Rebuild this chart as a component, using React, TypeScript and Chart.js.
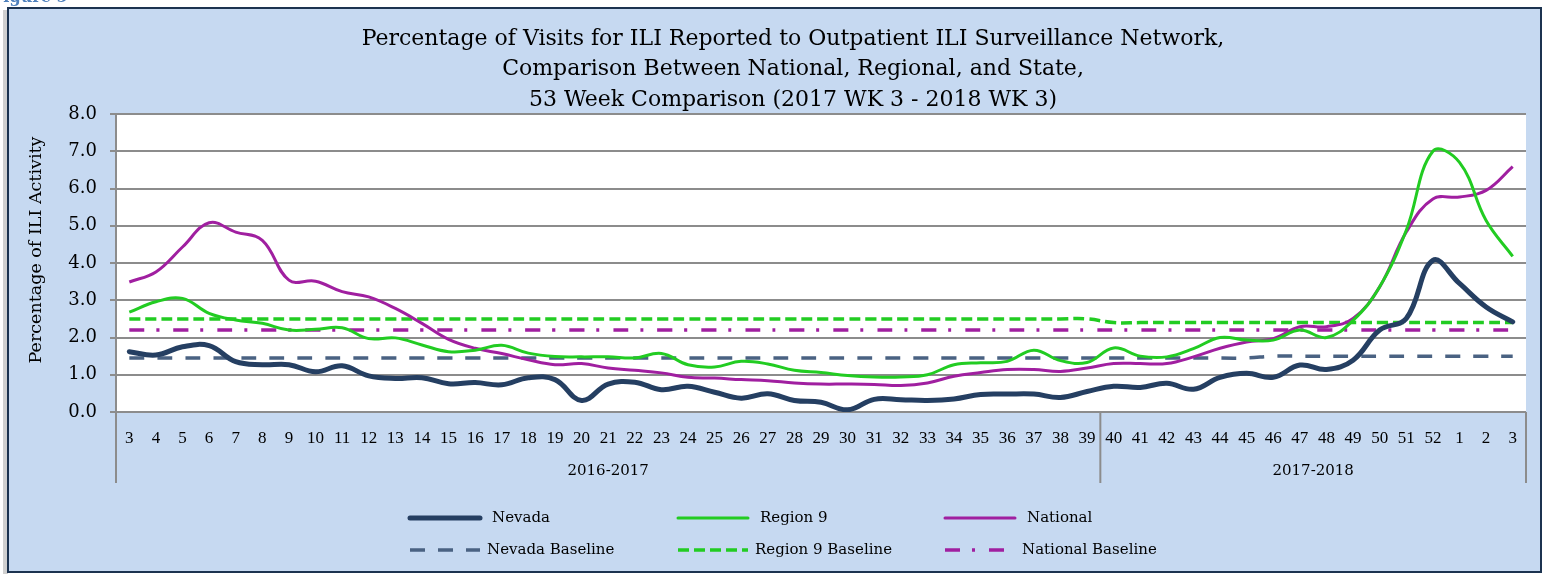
import { useEffect, useRef } from 'react';
import { Chart, registerables } from 'chart.js';

Chart.register(...registerables);

const weekLabels = [
  '3', '4', '5', '6', '7', '8', '9', '10', '11', '12', '13', '14', '15', '16', '17', '18', '19', '20',
  '21', '22', '23', '24', '25', '26', '27', '28', '29', '30', '31', '32', '33', '34', '35', '36', '37',
  '38', '39', '40', '41', '42', '43', '44', '45', '46', '47', '48', '49', '50', '51', '52', '1', '2', '3',
];

const seasonLabels = ['2016-2017', '2017-2018'];
const seasonFirstIndex = [0, 37];
const seasonLastIndex = [36, 52];

const titleLines = [
  'Percentage of Visits for ILI Reported to Outpatient ILI Surveillance Network,',
  'Comparison Between National, Regional, and State,',
  '53 Week Comparison (2017 WK 3 - 2018 WK 3)',
];
const yAxisTitle = 'Percentage of ILI Activity';
const figureLabel = 'Figure 5';

const nevada = [
  1.62, 1.53, 1.75, 1.78, 1.35, 1.27, 1.27, 1.08, 1.24, 0.97,
  0.9, 0.92, 0.76, 0.79, 0.73, 0.92, 0.87, 0.31, 0.75, 0.8,
  0.6, 0.69, 0.53, 0.37, 0.49, 0.31, 0.26, 0.06, 0.34, 0.33,
  0.31, 0.35, 0.47, 0.48, 0.48, 0.39, 0.55, 0.69, 0.66, 0.77,
  0.61, 0.93, 1.04, 0.93, 1.26, 1.14, 1.39, 2.2, 2.51, 4.07,
  3.45, 2.82, 2.42,
];

const region9 = [
  2.68, 2.96, 3.05, 2.65, 2.47, 2.38, 2.2, 2.22, 2.26, 1.97,
  1.99, 1.8, 1.62, 1.66, 1.79, 1.58, 1.49, 1.48, 1.48, 1.45,
  1.57, 1.27, 1.21, 1.36, 1.29, 1.12, 1.06, 0.98, 0.94, 0.94,
  1.0, 1.27, 1.32, 1.36, 1.66, 1.38, 1.33, 1.72, 1.5, 1.48,
  1.7, 2.0, 1.93, 1.93, 2.2, 2.0, 2.46, 3.36, 4.88, 7.0,
  6.7, 5.14, 4.18,
];

const national = [
  3.49, 3.76, 4.43, 5.08, 4.83, 4.61, 3.54, 3.51, 3.23, 3.09,
  2.78, 2.38, 1.95, 1.71, 1.57, 1.4, 1.27, 1.3, 1.18, 1.12,
  1.05, 0.93, 0.91, 0.87, 0.84, 0.78, 0.75, 0.75, 0.74, 0.71,
  0.78, 0.96, 1.06, 1.14, 1.14, 1.09, 1.18, 1.3, 1.3, 1.3,
  1.48, 1.71, 1.88, 1.97, 2.29, 2.29, 2.51, 3.36, 4.83, 5.72,
  5.77, 5.95, 6.59,
];

const nevadaBaseline = [
  1.45, 1.45, 1.45, 1.45, 1.45, 1.45, 1.45, 1.45, 1.45, 1.45,
  1.45, 1.45, 1.45, 1.45, 1.45, 1.45, 1.45, 1.45, 1.45, 1.45,
  1.45, 1.45, 1.45, 1.45, 1.45, 1.45, 1.45, 1.45, 1.45, 1.45,
  1.45, 1.45, 1.45, 1.45, 1.45, 1.45, 1.45, 1.45, 1.45, 1.45,
  1.45, 1.45, 1.45, 1.5, 1.5, 1.5, 1.5, 1.5, 1.5, 1.5,
  1.5, 1.5, 1.5,
];

const region9Baseline = [
  2.5, 2.5, 2.5, 2.5, 2.5, 2.5, 2.5, 2.5, 2.5, 2.5,
  2.5, 2.5, 2.5, 2.5, 2.5, 2.5, 2.5, 2.5, 2.5, 2.5,
  2.5, 2.5, 2.5, 2.5, 2.5, 2.5, 2.5, 2.5, 2.5, 2.5,
  2.5, 2.5, 2.5, 2.5, 2.5, 2.5, 2.5, 2.4, 2.4, 2.4,
  2.4, 2.4, 2.4, 2.4, 2.4, 2.4, 2.4, 2.4, 2.4, 2.4,
  2.4, 2.4, 2.4,
];

const nationalBaseline = [
  2.2, 2.2, 2.2, 2.2, 2.2, 2.2, 2.2, 2.2, 2.2, 2.2,
  2.2, 2.2, 2.2, 2.2, 2.2, 2.2, 2.2, 2.2, 2.2, 2.2,
  2.2, 2.2, 2.2, 2.2, 2.2, 2.2, 2.2, 2.2, 2.2, 2.2,
  2.2, 2.2, 2.2, 2.2, 2.2, 2.2, 2.2, 2.2, 2.2, 2.2,
  2.2, 2.2, 2.2, 2.2, 2.2, 2.2, 2.2, 2.2, 2.2, 2.2,
  2.2, 2.2, 2.2,
];

const SERIF = '"DejaVu Serif", "Liberation Serif", serif';
const SERIF2 = '"Liberation Serif", "DejaVu Serif", serif';
const GRID = '#8c8c8c';
const FRAME_BG = '#c6d9f1';

const decorPlugin = {
  id: 'decor',
  beforeDraw(chart: any) {
    const { ctx, chartArea } = chart;
    const { left, top, right, bottom } = chartArea;
    ctx.save();
    ctx.fillStyle = '#ffffff';
    ctx.fillRect(0, 0, chart.width, chart.height);
    ctx.fillStyle = '#d0d0d0';
    ctx.fillRect(3, 10, 5, 564);
    ctx.fillStyle = FRAME_BG;
    ctx.fillRect(7, 7, 1534, 566);
    ctx.strokeStyle = '#1c3350';
    ctx.lineWidth = 2;
    ctx.strokeRect(8, 8, 1533, 564);
    ctx.fillStyle = '#ffffff';
    ctx.fillRect(left, top, right - left, bottom - top);
    ctx.restore();
  },
  afterDraw(chart: any) {
    const { ctx, chartArea } = chart;
    const { left, right, bottom } = chartArea;
    const xs = chart.scales.x;
    ctx.save();

    // figure label (mostly cut off at top)
    ctx.fillStyle = '#4f81bd';
    ctx.font = `bold 16px ${SERIF}`;
    ctx.textAlign = 'left';
    ctx.textBaseline = 'alphabetic';
    ctx.fillText(figureLabel, -8, 2);

    // title
    ctx.fillStyle = '#000';
    ctx.font = `22px ${SERIF}`;
    ctx.textAlign = 'center';
    ctx.textBaseline = 'middle';
    titleLines.forEach((t, i) => ctx.fillText(t, 793, 39 + i * 30.5));

    // y axis title
    ctx.save();
    ctx.translate(36, 250);
    ctx.rotate(-Math.PI / 2);
    ctx.font = `17.5px ${SERIF}`;
    ctx.fillText(yAxisTitle, 0, 0);
    ctx.restore();

    // category separators
    ctx.strokeStyle = GRID;
    ctx.lineWidth = 2;
    const sepXs = [left, right];
    for (let g = 1; g < seasonFirstIndex.length; g++) {
      const a = xs.getPixelForValue(seasonLastIndex[g - 1]);
      const b = xs.getPixelForValue(seasonFirstIndex[g]);
      sepXs.push((a + b) / 2);
    }
    sepXs.forEach((x) => {
      ctx.beginPath();
      ctx.moveTo(x, bottom);
      ctx.lineTo(x, bottom + 71);
      ctx.stroke();
    });

    // season labels
    ctx.fillStyle = '#000';
    ctx.font = `15px ${SERIF}`;
    seasonLabels.forEach((lab, g) => {
      const a = xs.getPixelForValue(seasonFirstIndex[g]);
      const b = xs.getPixelForValue(seasonLastIndex[g]);
      ctx.fillText(lab, (a + b) / 2, 471);
    });

    // legend
    const colX = [410, 678, 945];
    const rowY = [518, 550];
    ctx.textAlign = 'left';
    ctx.font = `15px ${SERIF}`;
    chart.data.datasets.forEach((ds: any, i: number) => {
      const c = i % 3;
      const r = Math.floor(i / 3);
      const x0 = colX[c];
      const y = rowY[r];
      ctx.save();
      ctx.strokeStyle = ds.borderColor;
      ctx.lineWidth = ds.borderWidth;
      ctx.lineCap = r === 0 ? 'round' : 'butt';
      ctx.setLineDash(ds.borderDash || []);
      ctx.beginPath();
      ctx.moveTo(x0, y);
      ctx.lineTo(x0 + 70, y);
      ctx.stroke();
      ctx.restore();
      ctx.fillStyle = '#000';
      ctx.fillText(ds.label, x0 + (r === 0 ? 82 : 77), y);
    });

    ctx.restore();
  },
};

export default function App() {
  const ref = useRef<HTMLCanvasElement>(null);
  useEffect(() => {
    const canvas = ref.current;
    if (!canvas) return;
    const chart = new Chart(canvas, {
      type: 'line',
      data: {
        labels: weekLabels,
        datasets: [
          { label: 'Nevada', data: nevada, borderColor: '#253f62', borderWidth: 5, tension: 0.4, pointRadius: 0, fill: false, borderCapStyle: 'round' },
          { label: 'Region 9', data: region9, borderColor: '#22cc22', borderWidth: 3, tension: 0.4, pointRadius: 0, fill: false },
          { label: 'National', data: national, borderColor: '#a01fa0', borderWidth: 3, tension: 0.4, pointRadius: 0, fill: false },
          { label: 'Nevada Baseline', data: nevadaBaseline, borderColor: '#4a6282', borderWidth: 3.5, borderDash: [15, 13], tension: 0.4, pointRadius: 0, fill: false },
          { label: 'Region 9 Baseline', data: region9Baseline, borderColor: '#22cc22', borderWidth: 3.5, borderDash: [11, 5], tension: 0.4, pointRadius: 0, fill: false },
          { label: 'National Baseline', data: nationalBaseline, borderColor: '#a01fa0', borderWidth: 3.5, borderDash: [15, 12, 3, 14], tension: 0.4, pointRadius: 0, fill: false },
        ],
      },
      options: {
        responsive: false,
        animation: false,
        devicePixelRatio: 1,
        layout: { padding: { left: 0, right: 18, top: 114, bottom: 0 } },
        plugins: {
          legend: { display: false },
          title: { display: false },
          tooltip: { enabled: false },
        },
        scales: {
          x: {
            type: 'category',
            offset: true,
            grid: { display: false, drawTicks: false },
            border: { display: false },
            ticks: {
              autoSkip: false,
              maxRotation: 0,
              minRotation: 0,
              padding: 16,
              color: '#000',
              font: { family: SERIF2, size: 17 },
            },
            afterFit: (s: any) => { s.height = 162; },
          },
          y: {
            min: 0,
            max: 8,
            ticks: {
              stepSize: 1,
              padding: 13,
              color: '#000',
              font: { family: SERIF, size: 18 },
              callback: (v: any) => Number(v).toFixed(1),
            },
            grid: { color: GRID, lineWidth: 2, tickLength: 6, drawTicks: true },
            border: { color: GRID, width: 2 },
            afterFit: (s: any) => { s.width = 116; },
          },
        },
      },
      plugins: [decorPlugin],
    } as any);
    return () => chart.destroy();
  }, []);

  return (
    <div style={{ position: 'fixed', left: 0, top: 0, width: 1544, height: 574, background: '#fff' }}>
      <canvas ref={ref} width={1544} height={574} style={{ display: 'block', width: 1544, height: 574 }} />
    </div>
  );
}
